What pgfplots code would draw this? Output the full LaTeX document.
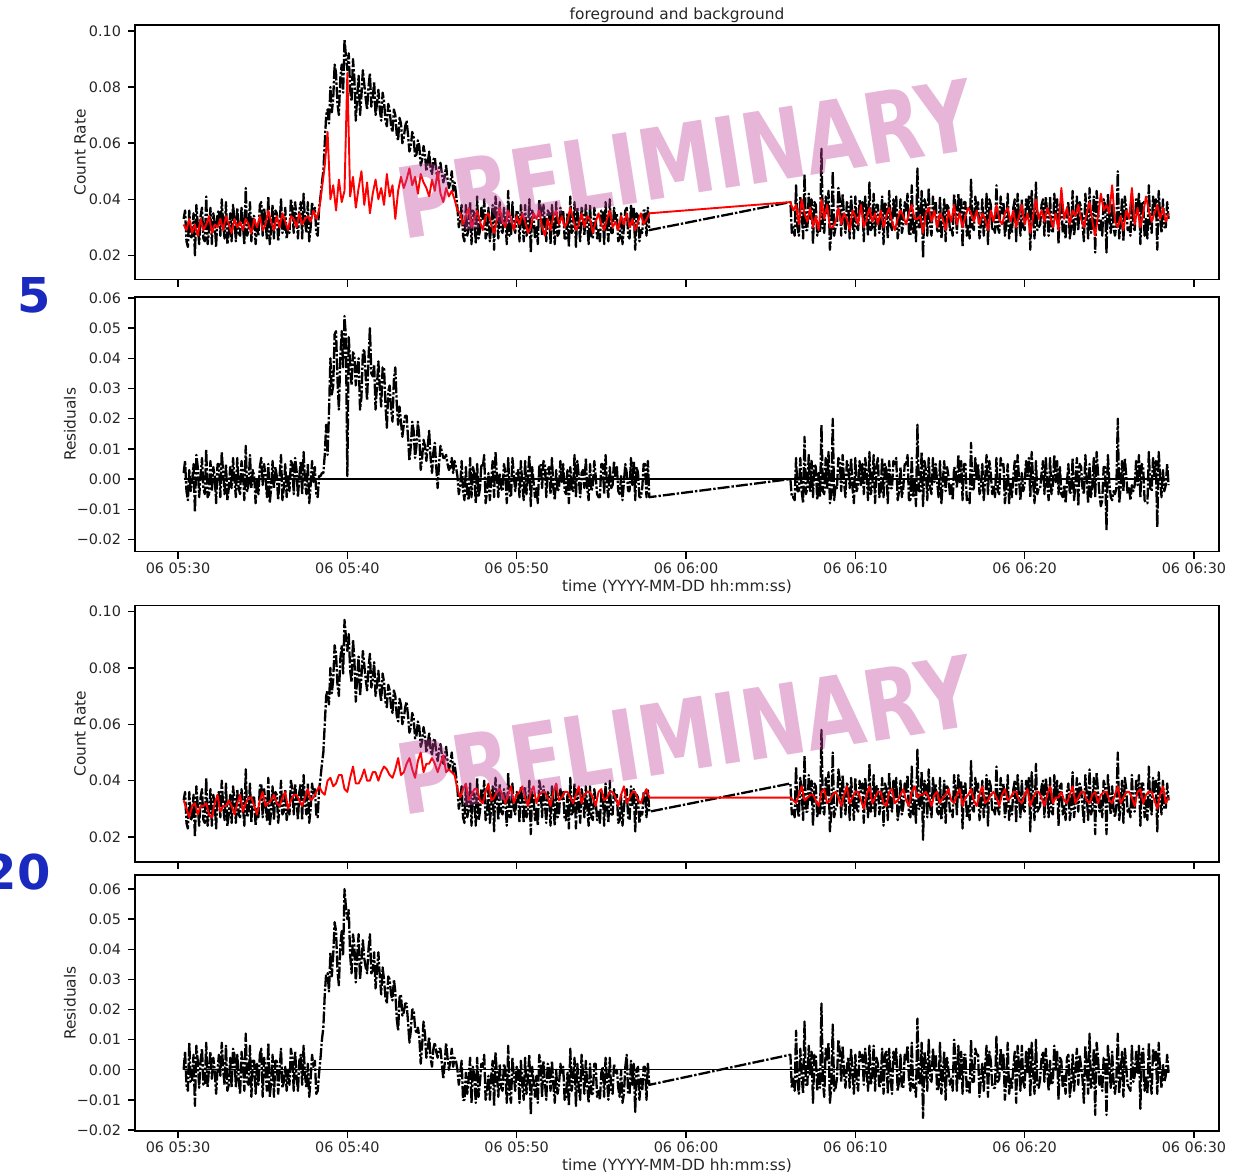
\documentclass[border=0pt]{standalone}
\usepackage{fontspec}
\setmainfont{DejaVu Sans}
\usepackage{pgfplots}
\pgfplotsset{compat=1.18}
\usepackage{pgfplotstable}
\definecolor{wm}{RGB}{192,64,154}
\definecolor{lblue}{RGB}{26,42,190}

% time in s after 05:30; rates and residuals in units of 0.001
% background models (red)
\pgfplotstableread{
t b5 b20
20 31 33
30 29 30
40 33 27
50 28 31
60 31 32
70 27 28
80 33 31
90 29 31
100 31 32
110 34 28
120 28 27
130 31 32
140 30 35
150 33 29
160 29 31
170 34 31
180 31 33
190 28 31
200 33 28
210 30 32
220 32 35
230 29 29
240 33 32
250 31 34
260 28 34
270 33 31
280 30 28
290 34 33
300 29 36
310 31 31
320 36 32
330 32 33
340 29 35
350 34 32
360 30 31
370 35 34
380 32 36
390 29 30
400 34 33
410 33 35
420 30 35
430 35 33
440 31 31
450 33 34
460 34 37
470 32 33
480 36 34
490 33 36
500 36 38
510 44 36
520 52 35
530 64 40
540 40 41
550 45 38
560 36 39
570 47 42
580 39 42
590 43 37
600 85 36
610 41 41
620 48 45
630 37 39
640 44 39
650 50 41
660 38 44
670 46 40
680 35 40
690 42 43
700 47 43
710 40 40
720 44 43
730 38 45
740 49 44
750 41 42
760 45 41
770 33 44
780 43 48
790 48 42
800 44 43
810 47 46
820 51 48
830 45 44
840 48 41
850 42 47
860 49 50
870 46 43
880 44 46
890 41 46
900 47 48
910 43 46
920 50 43
930 42 46
940 39 49
950 44 43
960 41 44
970 43 43
980 40 42
990 36 37
1000 35 34
1010 31 37
1020 34 39
1030 37 33
1040 30 35
1050 33 37
1060 36 37
1070 32 33
1080 29 32
1090 34 36
1100 35 39
1110 31 33
1120 28 34
1130 33 36
1140 37 37
1150 32 35
1160 30 32
1170 36 35
1180 33 38
1190 29 32
1200 34 35
1210 31 36
1220 35 38
1230 32 34
1240 28 31
1250 30 36
1260 35 38
1270 33 32
1280 36 35
1290 30 36
1300 27 36
1310 33 34
1320 29 31
1330 34 36
1340 36 39
1350 31 33
1360 34 34
1370 30 36
1380 32 36
1390 37 34
1400 33 32
1410 29 35
1420 31 38
1430 35 32
1440 30 35
1450 34 36
1460 33 36
1470 28 34
1480 32 31
1490 35 36
1500 31 37
1510 29 33
1520 33 34
1530 36 36
1540 30 36
1550 32 34
1560 29 31
1570 34 35
1580 31 38
1590 35 32
1600 30 34
1610 33 36
1620 29 36
1630 32 33
1640 35 32
1650 31 35
1660 33 37
1670 35 34
2170 39 34
2180 36 33
2190 38 32
2200 31 35
2210 40 38
2220 35 33
2230 32 34
2240 37 35
2250 30 35
2260 34 33
2270 29 31
2280 40 36
2290 33 37
2300 38 32
2310 30 33
2320 30 35
2330 32 36
2340 37 34
2350 31 31
2360 35 35
2370 33 38
2380 29 32
2390 36 34
2400 34 36
2410 31 36
2420 38 33
2430 30 30
2440 33 35
2450 37 38
2460 32 32
2470 35 34
2480 31 36
2490 36 36
2500 30 32
2510 34 31
2520 37 36
2530 32 37
2540 29 32
2550 33 33
2560 36 35
2570 34 37
2580 31 33
2590 35 31
2600 38 36
2610 33 38
2620 33 34
2630 34 35
2640 28 35
2650 35 36
2660 37 34
2670 32 31
2680 36 35
2690 30 36
2700 35 32
2710 33 34
2720 29 35
2730 36 37
2740 32 33
2750 38 32
2760 31 35
2770 35 37
2780 30 31
2790 34 34
2800 37 35
2810 35 37
2820 32 33
2830 36 31
2840 31 35
2850 35 38
2860 33 32
2870 29 33
2880 36 35
2890 32 36
2900 38 34
2910 33 31
2920 31 35
2930 35 37
2940 37 33
2950 32 34
2960 36 36
2970 30 36
2980 34 33
2990 38 32
3000 31 35
3010 35 37
3020 28 31
3030 34 34
3040 40 36
3050 33 36
3060 36 34
3070 32 31
3080 37 35
3090 34 38
3100 30 32
3110 35 34
3120 29 34
3130 44 36
3140 33 33
3150 37 32
3160 31 35
3170 36 38
3180 34 32
3190 38 34
3200 33 36
3210 30 36
3220 35 33
3230 39 32
3240 32 35
3250 27 36
3260 34 32
3270 42 35
3280 36 36
3290 38 36
3300 35 33
3310 45 32
3320 32 35
3330 30 38
3340 34 32
3350 29 34
3360 36 36
3370 33 36
3380 44 34
3390 31 31
3400 37 36
3410 30 37
3420 35 32
3430 41 35
3440 36 36
3450 32 36
3460 35 33
3470 38 30
3480 33 35
3490 37 38
3500 32 32
3510 35 34
}\bgdata

% foreground (black) and residuals against both backgrounds
\pgfplotstableread{
t fg r5 r20
20 33 2 0
25 36 6 6
30 25 -4 -5
35 23 -7 -7
40 36 3 9
45 26 -4 -4
50 27 -1 -4
55 35 5 5
60 20 -11 -12
65 38 8 8
70 31 4 3
75 24 -6 -6
80 34 1 3
85 37 7 7
90 26 -3 -5
95 25 -5 -5
100 41 10 9
105 24 -6 -6
110 29 -5 1
115 37 6 6
120 24 -4 -3
125 35 4 4
130 32 1 0
135 23 -8 -8
140 35 5 0
145 36 5 5
150 27 -6 -2
155 40 9 9
160 31 2 0
165 26 -5 -5
170 39 5 8
175 24 -7 -7
180 28 -3 -5
185 35 4 4
190 25 -3 -6
195 38 7 7
200 33 0 5
205 25 -6 -6
210 37 7 5
215 28 -3 -3
220 27 -5 -8
225 37 6 6
230 31 2 2
235 24 -7 -7
240 44 11 12
245 27 -4 -4
250 29 -2 -5
255 39 8 8
260 25 -3 -9
265 34 3 3
270 34 1 3
275 24 -8 -8
280 30 0 2
285 27 -5 -5
290 38 4 5
295 39 7 7
300 27 -2 -9
305 37 5 4
310 32 1 1
315 26 -6 -7
320 41 5 9
325 24 -8 -9
330 29 -3 -4
335 38 6 5
340 26 -3 -9
345 36 4 3
350 35 1 3
355 25 -7 -8
360 31 1 0
365 40 8 7
370 28 -7 -6
375 29 -3 -4
380 37 5 1
385 26 -6 -7
390 30 1 0
395 28 -4 -5
400 40 6 7
405 37 5 4
410 28 -5 -7
415 39 7 6
420 33 3 -2
425 26 -6 -7
430 36 1 3
435 39 6 5
440 26 -5 -5
445 42 9 8
450 32 -1 -2
455 28 -5 -6
460 39 5 2
465 25 -8 -9
470 30 -2 -3
475 39 6 5
480 35 -1 1
485 37 4 3
490 28 -5 -8
495 27 -6 -7
500 37 1 -1
505 41 1 4
510 46 2 10
515 50 2 14
520 60 8 25
525 70 18 32
530 72 8 32
535 67 22 26
540 80 40 39
545 71 28 31
550 76 31 38
555 88 48 49
560 85 49 46
565 74 33 33
570 70 23 28
575 83 40 41
580 88 49 46
585 78 37 38
590 97 54 60
595 91 47 54
600 86 1 50
605 92 47 53
610 79 38 38
615 75 31 32
620 90 42 45
625 83 41 41
630 68 31 29
635 77 37 38
640 84 40 45
645 70 23 30
650 77 27 36
655 86 42 43
660 81 43 37
665 76 34 34
670 72 26 32
675 80 40 40
680 85 50 45
685 73 35 32
690 76 34 33
695 82 38 39
700 70 23 27
705 74 31 33
710 79 39 39
715 72 30 31
720 68 24 25
725 78 37 34
730 75 37 30
735 68 25 24
740 66 17 22
745 74 29 31
750 72 31 30
755 66 23 25
760 64 19 23
765 72 33 30
770 70 37 26
775 63 25 17
780 61 18 13
785 69 24 24
790 67 19 25
795 60 14 18
800 62 18 19
805 66 21 22
810 68 21 22
815 63 14 16
820 57 6 9
825 59 11 13
830 64 19 20
835 62 16 20
840 55 7 14
845 56 11 12
850 61 19 14
855 59 14 11
860 52 3 2
865 54 7 8
870 59 13 16
875 56 11 12
880 50 6 4
885 53 11 7
890 57 16 11
895 51 7 4
900 49 2 1
905 54 9 7
910 55 12 9
915 50 4 6
920 47 -3 4
925 51 5 7
930 53 11 7
935 49 9 2
940 46 7 -3
945 48 7 2
950 52 8 9
955 47 5 4
960 44 3 0
965 46 4 3
970 50 7 7
975 43 2 1
980 46 6 4
985 42 4 3
990 37 1 0
995 30 -5 -5
1000 33 -2 -1
1005 38 6 3
1010 27 -4 -10
1015 25 -7 -10
1020 38 4 -1
1025 27 -5 -8
1030 30 -7 -3
1035 39 7 4
1040 24 -6 -11
1045 36 4 1
1050 35 2 -2
1055 24 -8 -11
1060 41 5 4
1065 26 -6 -9
1070 29 -3 -4
1075 37 5 2
1080 33 4 1
1085 40 8 5
1090 26 -8 -10
1095 28 -4 -7
1100 37 2 -2
1105 25 -7 -10
1110 31 0 -2
1115 38 6 3
1120 22 -6 -12
1125 41 9 6
1130 34 1 -2
1135 26 -6 -9
1140 39 2 2
1145 29 -3 -6
1150 28 -4 -7
1155 37 5 2
1160 32 2 0
1165 24 -8 -11
1170 43 7 8
1175 27 -5 -8
1180 27 -6 -11
1185 39 7 4
1190 30 1 -2
1195 28 -4 -7
1200 36 2 1
1205 35 3 0
1210 25 -6 -11
1215 38 6 3
1220 33 -2 -5
1225 25 -7 -10
1230 38 6 4
1235 27 -5 -8
1240 29 1 -2
1245 40 8 5
1250 21 -9 -15
1255 36 4 1
1260 34 -1 -4
1265 26 -6 -9
1270 30 -3 -2
1275 24 -8 -11
1280 40 4 5
1285 37 5 2
1290 27 -3 -9
1295 38 6 3
1300 32 5 -4
1305 25 -6 -10
1310 36 3 2
1315 35 4 0
1320 24 -5 -7
1325 38 7 3
1330 31 -3 -5
1335 24 -7 -11
1340 39 3 0
1345 27 -4 -8
1350 28 -3 -5
1355 37 6 2
1360 33 -1 -1
1365 36 5 1
1370 26 -4 -10
1375 26 -5 -9
1380 35 3 -1
1385 23 -8 -12
1390 41 4 7
1395 28 -3 -7
1400 29 -4 -3
1405 39 8 4
1410 23 -6 -12
1415 37 6 2
1420 32 1 -6
1425 25 -6 -10
1430 37 2 5
1435 34 3 -1
1440 27 -3 -8
1445 38 7 3
1450 31 -3 -5
1455 24 -7 -11
1460 38 5 2
1465 27 -4 -8
1470 26 -2 -8
1475 37 6 2
1480 33 1 2
1485 26 -5 -9
1490 29 -6 -7
1495 25 -6 -10
1500 36 5 -1
1505 36 5 1
1510 24 -5 -9
1515 39 8 4
1520 31 -2 -3
1525 25 -6 -10
1530 40 4 4
1535 28 -3 -7
1540 28 -2 -8
1545 37 6 2
1550 33 1 -1
1555 35 4 0
1560 25 -4 -6
1565 26 -5 -9
1570 35 1 0
1575 24 -7 -11
1580 30 -1 -8
1585 36 5 1
1590 37 2 5
1595 27 -4 -8
1600 26 -4 -8
1605 38 7 3
1610 31 -2 -5
1615 37 6 2
1620 22 -7 -14
1625 35 4 0
1630 34 2 1
1635 25 -6 -10
1640 29 -6 -3
1645 28 -3 -7
1650 36 5 1
1655 36 5 1
1660 27 -6 -10
1665 37 6 2
1670 29 -6 -5
2170 39 0 5
2175 28 -6 -6
2180 30 -6 -3
2185 27 -7 -7
2190 45 7 13
2195 30 -4 -4
2200 27 -4 -8
2205 41 7 7
2210 36 -4 -2
2215 26 -8 -8
2220 49 14 16
2225 29 -5 -5
2230 29 -3 -5
2235 42 8 8
2240 33 -4 -2
2245 40 6 6
2250 24 -6 -11
2255 39 5 5
2260 38 4 5
2265 27 -7 -7
2270 31 2 0
2275 28 -6 -6
2280 58 18 22
2285 30 -4 -4
2290 28 -5 -9
2295 41 7 7
2300 35 -3 3
2305 43 9 9
2310 22 -8 -11
2315 29 -5 -5
2320 50 20 15
2325 27 -7 -7
2330 30 -2 -6
2335 31 -3 -3
2340 44 7 10
2345 40 6 6
2350 27 -4 -4
2355 42 8 8
2360 34 -1 -1
2365 28 -6 -6
2370 39 6 1
2375 38 4 4
2380 26 -3 -6
2385 41 7 7
2390 33 -3 -1
2395 26 -8 -8
2400 41 7 5
2405 30 -4 -4
2410 29 -2 -7
2415 40 6 6
2420 36 -2 3
2425 39 5 5
2430 25 -5 -5
2435 41 7 7
2440 35 2 0
2445 27 -7 -7
2450 46 9 8
2455 29 -5 -5
2460 30 -2 -2
2465 42 8 8
2470 27 -8 -7
2475 38 4 4
2480 38 7 2
2485 28 -6 -6
2490 32 -4 -4
2495 41 7 7
2500 24 -6 -8
2505 39 5 5
2510 37 3 6
2515 26 -8 -8
2520 43 6 7
2525 31 -3 -3
2530 29 -3 -8
2535 40 6 6
2540 34 5 2
2545 41 7 7
2550 26 -7 -7
2555 30 -4 -4
2560 40 4 5
2565 28 -6 -6
2570 31 -3 -6
2575 39 5 5
2580 36 5 3
2585 42 8 8
2590 28 -7 -3
2595 27 -7 -7
2600 45 7 9
2605 28 -6 -6
2610 33 0 -5
2615 25 -9 -9
2620 51 18 17
2625 30 -4 -4
2630 30 -4 -5
2635 43 9 9
2640 19 -9 -16
2645 40 6 6
2650 38 3 2
2655 27 -7 -7
2660 44 7 10
2665 31 -3 -3
2670 27 -5 -4
2675 41 7 7
2680 35 -1 0
2685 39 5 5
2690 29 -1 -7
2695 28 -6 -6
2700 41 6 9
2705 26 -8 -8
2710 32 -1 -2
2715 40 6 6
2720 25 -4 -10
2725 38 4 4
2730 37 1 0
2735 29 -5 -5
2740 30 -2 -3
2745 27 -7 -7
2750 42 4 10
2755 37 3 3
2760 28 -3 -7
2765 42 8 8
2770 34 -1 -3
2775 40 6 6
2780 23 -7 -8
2785 39 5 5
2790 39 5 5
2795 27 -7 -7
2800 31 -6 -4
2805 26 -8 -8
2810 47 12 10
2815 30 -4 -4
2820 29 -3 -4
2825 41 7 7
2830 36 0 5
2835 39 5 5
2840 26 -5 -9
2845 31 -3 -3
2850 40 5 2
2855 27 -7 -7
2860 33 0 1
2865 42 8 8
2870 24 -5 -9
2875 40 6 6
2880 38 2 3
2885 29 -5 -5
2890 30 -2 -6
2895 28 -6 -6
2900 45 7 11
2905 30 -4 -4
2910 28 -5 -3
2915 41 7 7
2920 35 4 0
2925 39 5 5
2930 27 -8 -10
2935 31 -3 -3
2940 42 5 9
2945 26 -8 -8
2950 31 -1 -3
2955 28 -6 -6
2960 37 1 1
2965 40 6 6
2970 25 -5 -11
2975 42 8 8
2980 34 0 1
2985 27 -7 -7
2990 40 2 8
2995 30 -4 -4
3000 29 -2 -6
3005 40 6 6
3010 36 1 -1
3015 41 7 7
3020 22 -6 -9
3025 43 9 9
3030 33 -1 -1
3035 26 -8 -8
3040 46 6 10
3045 29 -5 -5
3050 30 -3 -6
3055 31 -3 -3
3060 38 2 4
3065 40 6 6
3070 27 -5 -4
3075 41 7 7
3080 35 -2 0
3085 27 -7 -7
3090 41 7 3
3095 29 -5 -5
3100 28 -2 -4
3105 42 8 8
3110 34 -1 0
3115 40 6 6
3120 24 -5 -10
3125 38 4 4
3130 39 -5 3
3135 28 -6 -6
3140 31 -2 -2
3145 26 -8 -8
3150 36 -1 4
3155 39 5 5
3160 26 -5 -9
3165 30 -4 -4
3170 43 7 5
3175 27 -7 -7
3180 32 -2 0
3185 41 7 7
3190 29 -9 -5
3195 39 5 5
3200 37 4 1
3205 31 -3 -3
3210 25 -5 -11
3215 42 8 8
3220 35 0 2
3225 26 -8 -8
3230 44 5 12
3235 28 -6 -6
3240 30 -2 -5
3245 41 7 7
3250 21 -6 -15
3255 43 9 9
3260 36 2 4
3265 29 -5 -5
3270 33 -9 -2
3275 27 -7 -7
3280 40 4 4
3285 38 4 4
3290 21 -17 -15
3295 42 8 8
3300 34 -1 1
3305 28 -6 -6
3310 38 -7 6
3315 30 -4 -4
3320 27 -5 -8
3325 31 -3 -3
3330 50 20 12
3335 26 -8 -8
3340 31 -3 -1
3345 40 6 6
3350 25 -4 -9
3355 41 7 7
3360 37 1 1
3365 29 -5 -5
3370 30 -3 -6
3375 27 -7 -7
3380 42 -2 8
3385 30 -4 -4
3390 29 -2 -2
3395 40 6 6
3400 35 -2 -1
3405 42 8 8
3410 24 -6 -13
3415 39 5 5
3420 39 4 7
3425 27 -7 -7
3430 33 -8 -2
3435 26 -8 -8
3440 45 9 9
3445 31 -3 -3
3450 28 -4 -8
3455 41 7 7
3460 36 1 3
3465 40 6 6
3470 22 -16 -8
3475 43 9 9
3480 34 1 -1
3485 28 -6 -6
3490 40 3 2
3495 30 -4 -4
3500 30 -2 -2
3505 39 5 5
3510 33 -2 -1
}\fgdata

\pgfplotsset{
  panel/.style={
    scale only axis, width=542pt,
    xmin=-152.4, xmax=3688.7,
    axis line style={line width=0.7pt},
    every tick/.style={line width=0.7pt, black},
    tick align=outside, major tick length=3.5pt,
    tick pos=left,
    xtick={0,600,1200,1800,2400,3000,3600},
    ticklabel style={font=\fontsize{7.2}{8}\selectfont, text=black!85},
    xticklabel style={yshift=1.5pt},
    every axis y label/.style={at={(axis description cs:-0.0507,0.5)}, rotate=90, anchor=center, font=\fontsize{7.7}{9}\selectfont, text=black!85},
    every axis x label/.style={at={(axis description cs:0.5,0)}, anchor=center, yshift=-17.5pt, font=\fontsize{7.7}{9}\selectfont, text=black!85},
    every axis title/.style={at={(axis description cs:0.5,1)}, anchor=base, yshift=3pt, font=\fontsize{7.7}{9}\selectfont, text=black!85},
    /pgf/number format/assume math mode=true,
    scaled ticks=false,
  },
  fgstyle/.style={black, line width=1.15pt, line join=round, dash pattern=on 6pt off 1pt on 1.2pt off 1pt},
  bgstyle/.style={red, line width=0.95pt, line join=round},
  zerostyle/.style={black, line width=0.6pt},
  reslabel/.style={every axis y label/.style={at={(axis description cs:-0.06,0.5)}, rotate=90, anchor=center, font=\fontsize{7.7}{9}\selectfont, text=black!85}},
}

\begin{document}
\begin{tikzpicture}
\useasboundingbox (-67.5pt,12.5pt) rectangle (550.5pt,-575pt);

% panel 1
\begin{axis}[panel, at={(0pt,0pt)}, anchor=north west, height=127.25pt,
  ymin=11.4, ymax=102.1, ytick={20,40,60,80,100},
  yticklabels={0.02,0.04,0.06,0.08,0.10}, xticklabels={},
  ylabel={Count Rate}, title={foreground and background}]
\addplot[fgstyle] table[x=t,y=fg]{\fgdata};
\addplot[bgstyle] table[x=t,y=b5]{\bgdata};
\end{axis}

% panel 2
\begin{axis}[panel, reslabel, at={(0pt,-136pt)}, anchor=north west, height=127.25pt,
  ymin=-24, ymax=60.3, ytick={-20,-10,0,10,20,30,40,50,60},
  yticklabels={−0.02,−0.01,0.00,0.01,0.02,0.03,0.04,0.05,0.06},
  xticklabels={06 05:30,06 05:40,06 05:50,06 06:00,06 06:10,06 06:20,06 06:30},
  ylabel={Residuals}, xlabel={time (YYYY-MM-DD hh:mm:ss)}]
\addplot[zerostyle] coordinates {(20,0) (3510,0)};
\addplot[fgstyle] table[x=t,y=r5]{\fgdata};
\end{axis}

% panel 3
\begin{axis}[panel, at={(0pt,-290.25pt)}, anchor=north west, height=128.25pt,
  ymin=11.15, ymax=102.1, ytick={20,40,60,80,100},
  yticklabels={0.02,0.04,0.06,0.08,0.10}, xticklabels={},
  ylabel={Count Rate}]
\addplot[fgstyle] table[x=t,y=fg]{\fgdata};
\addplot[bgstyle] table[x=t,y=b20]{\bgdata};
\end{axis}

% panel 4
\begin{axis}[panel, reslabel, at={(0pt,-425pt)}, anchor=north west, height=128pt,
  ymin=-20.33, ymax=64.65, ytick={-20,-10,0,10,20,30,40,50,60},
  yticklabels={−0.02,−0.01,0.00,0.01,0.02,0.03,0.04,0.05,0.06},
  xticklabels={06 05:30,06 05:40,06 05:50,06 06:00,06 06:10,06 06:20,06 06:30},
  ylabel={Residuals}, xlabel={time (YYYY-MM-DD hh:mm:ss)}]
\addplot[zerostyle] coordinates {(20,0) (3510,0)};
\addplot[fgstyle] table[x=t,y=r20]{\fgdata};
\end{axis}

% watermarks
\node[rotate=9, xscale=0.78, text=wm, opacity=0.39, inner sep=0,
  font=\fontsize{49}{49}\selectfont\bfseries] at (275pt,-67pt) {PRELIMINARY};
\node[rotate=9, xscale=0.78, text=wm, opacity=0.39, inner sep=0,
  font=\fontsize{49}{49}\selectfont\bfseries] at (275pt,-355pt) {PRELIMINARY};

% side labels
\node[inner sep=0, text=lblue, font=\fontsize{24}{24}\selectfont\bfseries] at (-50.25pt,-135pt) {5};
\node[inner sep=0, text=lblue, font=\fontsize{24}{24}\selectfont\bfseries] at (-59pt,-423.75pt) {20};
\end{tikzpicture}
\end{document}
